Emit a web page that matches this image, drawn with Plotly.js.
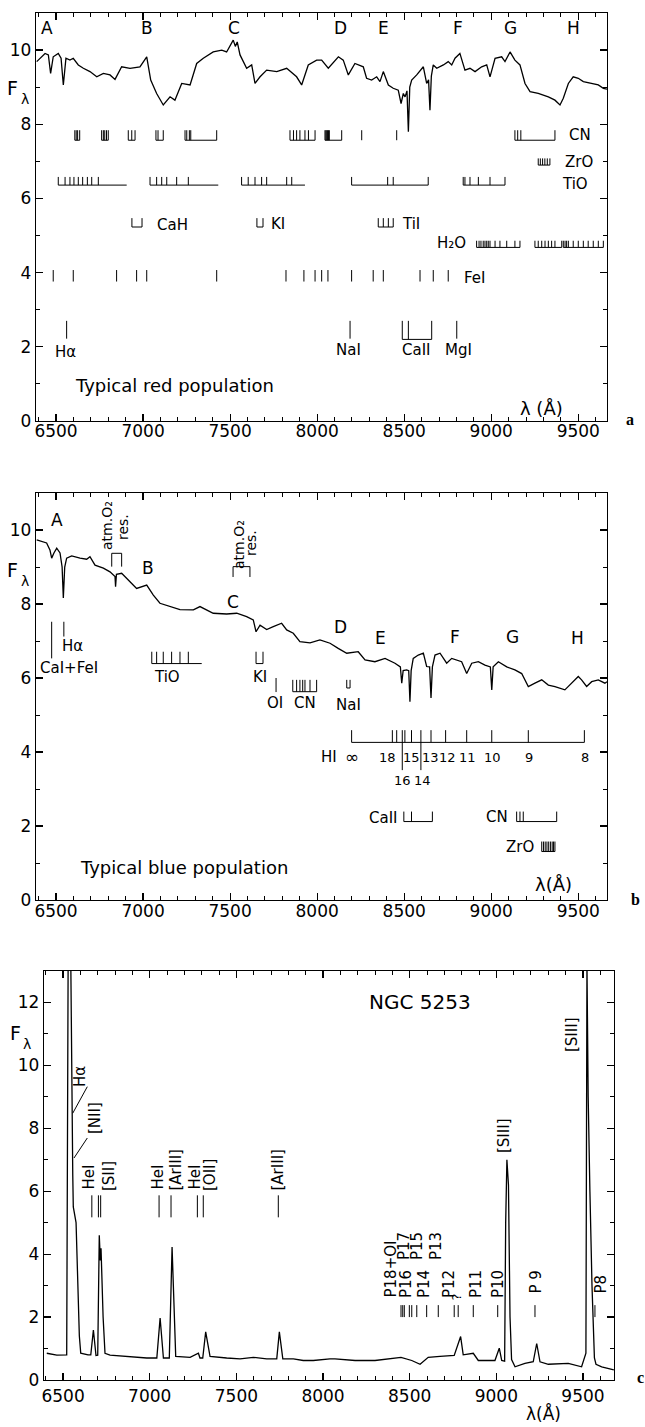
<!DOCTYPE html>
<html><head><meta charset="utf-8">
<script src="https://cdn.plot.ly/plotly-3.0.1.min.js"></script>
<style>html,body{margin:0;padding:0;background:#fff}</style>
</head><body><div id="chart" style="width:645px;height:1427px"></div>
<script>
// ---------- Panel a: typical red population ----------
const redWave = [6389,6408,6437,6456,6469,6484,6513,6529,6542,6557,
 6580,6599,6628,6657,6695,6734,6772,6810,6839,6877,
 6925,6982,7021,7044,7078,7116,7155,7183,7222,7270,
 7308,7346,7403,7452,7480,7518,7530,7541,7557,7595,
 7624,7643,7672,7710,7768,7825,7882,7911,7949,7997,
 8026,8064,8122,8150,8179,8217,8265,8284,8313,8342,
 8361,8380,8409,8437,8466,8482,8495,8505,8516,8524,
 8532,8543,8572,8610,8629,8640,8648,8656,8667,8687,
 8725,8753,8773,8792,8820,8849,8878,8907,8945,8974,
 8993,9022,9060,9079,9108,9136,9165,9194,9223,9270,
 9328,9366,9395,9414,9443,9471,9500,9529,9577,9615,
 9644,9665];
const redFlux = [9.69,9.78,9.91,9.87,9.37,9.82,9.91,9.78,9.06,9.78,
 9.73,9.78,9.60,9.51,9.42,9.28,9.37,9.33,9.21,9.55,
 9.51,9.55,9.82,9.19,8.83,8.52,8.74,8.65,9.10,9.06,
 9.64,9.78,9.95,10.00,9.95,10.27,10.10,10.22,9.87,9.51,
 9.60,9.10,9.28,9.46,9.42,9.51,9.28,9.06,9.60,9.73,
 9.73,9.51,9.82,9.73,9.33,9.64,9.55,9.24,9.19,9.28,
 9.15,9.42,9.06,8.97,8.92,8.56,8.83,8.74,8.90,7.80,
 9.00,9.19,9.33,9.55,9.10,9.20,8.38,9.30,9.60,9.51,
 9.60,9.69,9.60,9.78,9.91,9.46,9.51,9.42,9.55,9.60,
 9.28,9.78,9.82,9.69,9.95,9.73,9.60,9.10,8.88,8.83,
 8.74,8.65,8.52,8.70,9.10,9.28,9.24,9.15,9.10,9.06,
 8.97,8.95];
const redLetters = ['A','B','C','D','E','F','G','H'];
const redCN = [[6608,6616,6624,6636],[6762,6772,6780,6790,6800],[6915,6935,6954],[7074,7086,7116],
 [7241,7251,7266,7274,7423],[7844,7864,7882,7901,7930,7950,7988],[8045,8050,8055,8060,8065,8070,8141],
 [8256],[8457],[9136,9152,9170,9366]];
const redZrO = [[9270,9282,9295,9308,9322,9337]];
const redTiO = [[6513,6552,6580,6603,6628,6653,6680,6705,6743],[7040,7078,7107,7136,7193,7260],
 [7566,7604,7643,7681,7710,7825,7854],[8198,8405,8437,8638],[8839,8849,8878,8926,8993,9079]];
const redTiOSpan = [[6513,6906],[7040,7432],[7566,7930],[8198,8638],[8839,9079]];
const redCaH = [[6936,6994]];
const redKI = [[7654,7689]];
const redTiI = [[8351,8380,8409,8437]];
const redH2O = [[8916,8930,8941,8954,8964,8974,8983,8993,9022,9050,9089,9136,9165],
 [9251,9270,9290,9309,9328,9347,9366,9405],
 [9414,9424,9433,9443,9471,9500,9529,9557,9586,9615,9644]];
const redFeI = [6484,6599,6848,6963,7021,7423,7821,7924,7988,8026,8062,8198,8322,8380,8591,8667,8753];
const redSingle = [6561,8189,8802]; // Halpha, NaI, MgI
const redCaII = [[8489,8524,8658]];

// ---------- Panel b: typical blue population ----------
const blueWave = [6389,6418,6446,6465,6475,6488,6504,6523,6535,6542,
 6550,6561,6590,6638,6676,6695,6724,6772,6810,6839,
 6842,6847,6877,6925,6963,7021,7059,7097,7155,7212,
 7289,7327,7403,7480,7538,7595,7633,7649,7672,7710,
 7748,7796,7825,7863,7901,7959,8016,8074,8121,8170,
 8236,8275,8332,8390,8447,8478,8486,8494,8514,8526,
 8533,8540,8552,8581,8610,8629,8646,8654,8662,8677,
 8706,8744,8773,8830,8859,8888,8926,8964,8995,9003,
 9011,9041,9089,9136,9175,9213,9251,9290,9328,9366,
 9423,9462,9500,9519,9548,9577,9615,9653,9665];
const blueFlux = [9.73,9.68,9.65,9.46,9.24,9.38,9.51,9.38,9.00,8.16,
 9.00,9.24,9.30,9.24,9.21,9.28,9.05,8.97,8.87,8.74,
 8.47,8.80,8.83,8.60,8.42,8.51,8.24,8.02,7.93,7.85,
 7.84,7.93,7.75,7.73,7.75,7.66,7.57,7.25,7.43,7.31,
 7.39,7.48,7.30,7.21,6.98,6.95,7.03,6.94,6.80,6.67,
 6.71,6.49,6.44,6.53,6.40,6.30,5.86,6.20,6.22,6.20,
 5.36,6.20,6.53,6.62,6.67,6.31,6.30,5.46,6.30,6.62,
 6.67,6.40,6.53,6.44,6.12,6.40,6.44,6.35,6.30,5.68,
 6.30,6.44,6.30,6.22,6.12,5.77,5.86,5.95,5.81,5.77,
 5.68,5.86,6.04,5.95,5.77,5.90,5.95,5.86,5.90];
const blueHa = [6545];
const blueCaFe = [6475];
const blueO2a = [[6820,6877]];
const blueO2b = [[7517,7614]];
const blueTiO = [[7050,7078,7116,7164,7212,7260]];
const blueTiOSpan = [[7050,7337]];
const blueKI = [[7649,7689]];
const blueOI = [7764];
const blueCN = [[7860,7882,7901,7917,7930,7959,7997]];
const blueNaI = [[8170,8189]];
const paschenShort = [8198,8432,8457,8504,8542,8654,8738,8859,9003,9213,9535];
const paschenLong = [8489,8596];
const paschenNums = ['18','15','13','12','11','10','9','8'];
const blueCaII = [[8498,8542,8662]];
const blueCN2 = [[9146,9165,9184,9376]];
const blueZrO = [[9290,9300,9310,9320,9330,9340,9350,9358,9366]];

// ---------- Panel c: NGC 5253 ----------
const ngcWave = [6406,6464,6521,6531,6540,6550,6556,6559,6575,6594,
 6602,6644,6660,6675,6690,6700,6709,6715,6719,6731,
 6742,6771,6848,6906,6983,7041,7060,7079,7113,7129,
 7150,7233,7281,7290,7306,7323,7348,7444,7521,7598,
 7675,7733,7748,7768,7829,7886,7944,8040,8069,8185,
 8300,8450,8512,8560,8607,8675,8757,8794,8809,8867,
 8896,8992,9017,9031,9048,9054,9061,9070,9079,9088,
 9108,9165,9213,9233,9252,9300,9415,9492,9517,9523,
 9530,9540,9552,9566,9575,9608,9646,9678];
const ngcFlux = [0.85,0.79,0.80,16,16,8.5,6.5,5.5,5.0,1.4,
 0.85,0.80,0.80,1.59,0.78,0.79,4.60,3.80,4.19,2.00,
 0.85,0.79,0.75,0.72,0.70,0.70,1.97,0.70,0.70,4.23,
 0.75,0.72,0.85,0.70,0.70,1.53,0.75,0.70,0.67,0.72,
 0.67,0.67,1.53,0.67,0.67,0.62,0.62,0.67,0.67,0.62,
 0.62,0.72,0.62,0.50,0.72,0.75,0.78,1.38,0.80,0.85,
 0.62,0.62,1.01,0.62,0.60,5.00,7.00,6.20,2.00,0.65,
 0.42,0.53,0.58,1.16,0.58,0.50,0.53,0.42,0.85,13.2,
 9.00,6.00,3.00,0.70,0.50,0.42,0.37,0.32];
const ngcLineTicks = [6666,6704,6717,7054,7123,7275,7309,7742];
const ngcPaschenTicks = [8450,8460,8469,8498,8512,8541,8598,8665,8757,8780,8867,9008,9223,9569];

// ---------- drawing ----------
const W = 645, H = 1427, FONT = 'DejaVu Sans';
const traces = [];
function line(x, y, xa, ya, w) {
  traces.push({type:'scatter', mode:'lines', x, y, xaxis:xa, yaxis:ya,
    line:{color:'#000', width:w || 1.2}, hoverinfo:'skip', showlegend:false, connectgaps:false});
}
// comb of ticks joined by a baseline
function comb(groups, spans, base, top, xa, ya, w) {
  const x = [], y = [];
  groups.forEach((g, i) => {
    g.forEach(t => { x.push(t, t, null); y.push(base, top, null); });
    const s = spans ? spans[i] : [Math.min(...g), Math.max(...g)];
    if (s[1] > s[0]) { x.push(s[0], s[1], null); y.push(base, base, null); }
  });
  line(x, y, xa, ya, w || 1);
}
function singles(list, y0, y1, xa, ya) { comb(list.map(v => [v]), null, y0, y1, xa, ya); }

line(redWave, redFlux, 'x', 'y', 1.3);
line(blueWave, blueFlux, 'x2', 'y2', 1.3);
line(ngcWave, ngcFlux, 'x3', 'y3', 1.3);

// panel a marks
comb(redCN, null, 7.57, 7.84, 'x', 'y');
comb(redZrO, null, 6.90, 7.08, 'x', 'y');
comb(redTiO, redTiOSpan, 6.36, 6.58, 'x', 'y');
comb(redCaH, null, 5.23, 5.47, 'x', 'y');
comb(redKI, null, 5.23, 5.47, 'x', 'y');
comb(redTiI, null, 5.23, 5.47, 'x', 'y');
comb(redH2O, null, 4.68, 4.86, 'x', 'y');
singles(redFeI, 3.76, 4.07, 'x', 'y');
singles(redSingle, 2.22, 2.70, 'x', 'y');
comb(redCaII, null, 2.20, 2.70, 'x', 'y');

// panel b marks
singles(blueHa, 7.12, 7.52, 'x2', 'y2');
singles(blueCaFe, 6.53, 7.52, 'x2', 'y2');
comb(blueO2a, null, 9.37, 9.01, 'x2', 'y2');
comb(blueO2b, null, 9.01, 8.73, 'x2', 'y2');
comb(blueTiO, blueTiOSpan, 6.39, 6.71, 'x2', 'y2');
comb(blueKI, null, 6.39, 6.71, 'x2', 'y2');
singles(blueOI, 5.62, 6.00, 'x2', 'y2');
comb(blueCN, null, 5.63, 5.95, 'x2', 'y2');
comb(blueNaI, null, 5.73, 5.95, 'x2', 'y2');
comb([paschenShort], null, 4.26, 4.59, 'x2', 'y2');
singles(paschenLong, 3.51, 4.59, 'x2', 'y2');
comb(blueCaII, null, 2.12, 2.39, 'x2', 'y2');
comb(blueCN2, null, 2.12, 2.39, 'x2', 'y2');
comb(blueZrO, null, 1.31, 1.58, 'x2', 'y2');

// panel c marks
singles(ngcLineTicks, 5.17, 5.87, 'x3', 'y3');
singles(ngcPaschenTicks, 2.00, 2.38, 'x3', 'y3');

// ---------- annotations (pixel placed) ----------
function T(text, px, py, size, o) {
  return Object.assign({text, x:px/W, y:1-py/H, xref:'paper', yref:'paper', showarrow:false,
    xanchor:'center', yanchor:'middle', font:{family:FONT, size, color:'#000'}}, o || {});
}
const R = (o) => Object.assign({textangle:-90}, o || {});
const BOLD = {font:{family:'Liberation Serif', size:16, color:'#000'}};
const ann = [];
[47,147,234,340,383,458,510,573].forEach((p,i) => ann.push(T(redLetters[i], p, 28, 17)));
ann.push(T('CN',567,135,15,{xanchor:'left'}), T('ZrO',563,162,15,{xanchor:'left'}),
 T('TiO',560,184,15,{xanchor:'left'}), T('CaH',155,225,15,{xanchor:'left'}),
 T('KI',269,224,15,{xanchor:'left'}), T('TiI',400,224,15,{xanchor:'left'}),
 T('H₂O',435,243,15,{xanchor:'left'}), T('FeI',462,278,15,{xanchor:'left'}),
 T('Hα',65,352,15), T('NaI',348,350,15), T('CaII',417,350,15), T('MgI',458,350,15),
 T('Typical red population',73,385,18,{xanchor:'left'}), T('λ (Å)',541,408,18),
 T('<b>a</b>',630,420,16,BOLD),
 T('F',12,88,19), T('λ',25,99,14));
[[57,520],[148,568],[233,602],[340,627],[380,638],[455,637],[512,637],[577,638]].forEach((p,i) =>
  ann.push(T(redLetters[i], p[0], p[1], 17)));
ann.push(T('atm.O₂',107,526,14,R()), T('res.',123,527,14,R()),
 T('atm.O₂',239,545,14,R()), T('res.',251,543,14,R()),
 T('Hα',72,646,15), T('CaI+FeI',69,668,15), T('TiO',167,677,15), T('KI',260,677,15),
 T('OI',275,703,15), T('CN',305,703,15), T('NaI',348,705,15),
 T('HI',329,757,15), T('∞',352,757,17),
 T('CaII',383,818,15), T('CN',497,817,15), T('ZrO',520,847,15),
 T('Typical blue population',78,867,18,{xanchor:'left'}), T('λ(Å)',553,885,18),
 T('<b>b</b>',635,900,16,BOLD),
 T('F',12,570,19), T('λ',25,581,14));
[387,411,430,447,467,492,529,585].forEach((p,i) => ann.push(T(paschenNums[i], p, 757, 13)));
ann.push(T('16',402,780,13), T('14',422,780,13));
// panel c
ann.push(T('NGC 5253',420,1002,20), T('F',15,1033,19), T('λ',27,1044,14),
 T('Hα',80,1077,15,R()), T('[NII]',95,1118,15,R()),
 T('HeI',88,1192,15,R({yanchor:'bottom'})), T('[SII]',109,1193,15,R({yanchor:'bottom'})),
 T('HeI',157,1192,15,R({yanchor:'bottom'})), T('[ArIII]',175,1193,15,R({yanchor:'bottom'})),
 T('HeI',194,1192,15,R({yanchor:'bottom'})), T('[OII]',210,1193,15,R({yanchor:'bottom'})),
 T('[ArIII]',277,1193,15,R({yanchor:'bottom'})),
 T('P18+OI',390,1300,15,R({yanchor:'bottom'})), T('P17',404,1262,15,R({yanchor:'bottom'})),
 T('P15',417,1262,15,R({yanchor:'bottom'})), T('P13',436,1262,15,R({yanchor:'bottom'})),
 T('P16',406,1300,15,R({yanchor:'bottom'})), T('P14',424,1300,15,R({yanchor:'bottom'})),
 T('P12',449,1300,15,R({yanchor:'bottom'})), T('?',456,1303,13,R({yanchor:'bottom'})),
 T('P11',476,1300,15,R({yanchor:'bottom'})), T('P10',498,1300,15,R({yanchor:'bottom'})),
 T('P 9',535,1296,15,R({yanchor:'bottom'})), T('P8',600,1296,15,R({yanchor:'bottom'})),
 T('[SIII]',504,1136,15,R()), T('[SIII]',572,1035,15,R()),
 T('λ(Å)',543,1413,17),
 T('<b>c</b>',640,1377,16,BOLD));

const shapes = [
  [87.3,1086.7,72.7,1113.3],[87.3,1138,74,1158]
].map(s => ({type:'line', xref:'paper', yref:'paper', x0:s[0]/W, y0:1-s[1]/H, x1:s[2]/W, y1:1-s[3]/H,
  line:{color:'#000', width:1}}));

const base = {showline:true, linecolor:'#000', linewidth:1.3, mirror:'ticks', ticks:'inside',
  ticklen:7, tickwidth:1.2, tickcolor:'#000', showgrid:false, zeroline:false, fixedrange:true,
  tickfont:{family:FONT, size:17, color:'#000'}};
const xa = (dom, range, anchor, so) => Object.assign({}, base, {domain:dom, range, anchor, tick0:6500, dtick:500,
  ticklabelposition:'outside', ticklabelstandoff:so,
  minor:{tick0:6500, dtick:100, ticklen:4, ticks:'inside', tickcolor:'#000', tickwidth:1, showgrid:false}});
const ya = (top, bot, range, anchor) => Object.assign({}, base, {domain:[1-bot/H, 1-top/H], range, anchor,
  tick0:0, dtick:2, minor:{tick0:0, dtick:1, ticklen:4, ticks:'inside', tickcolor:'#000', tickwidth:1, showgrid:false}});

const layout = {
  width:W, height:H, margin:{l:0, r:0, t:0, b:0}, paper_bgcolor:'#fff', plot_bgcolor:'#fff',
  showlegend:false,
  xaxis: xa([36/W, 607/W], [6385, 9665], 'y', -6),
  yaxis: ya(13, 421, [0, 11], 'x'),
  xaxis2: xa([36/W, 607/W], [6385, 9665], 'y2', -5),
  yaxis2: ya(493, 900, [0, 11], 'x2'),
  xaxis3: xa([44/W, 614/W], [6390, 9679], 'y3', 0),
  yaxis3: ya(971, 1380, [0, 13], 'x3'),
  annotations: ann, shapes
};
Plotly.newPlot('chart', traces, layout, {staticPlot:true, displayModeBar:false});
</script></body></html>
